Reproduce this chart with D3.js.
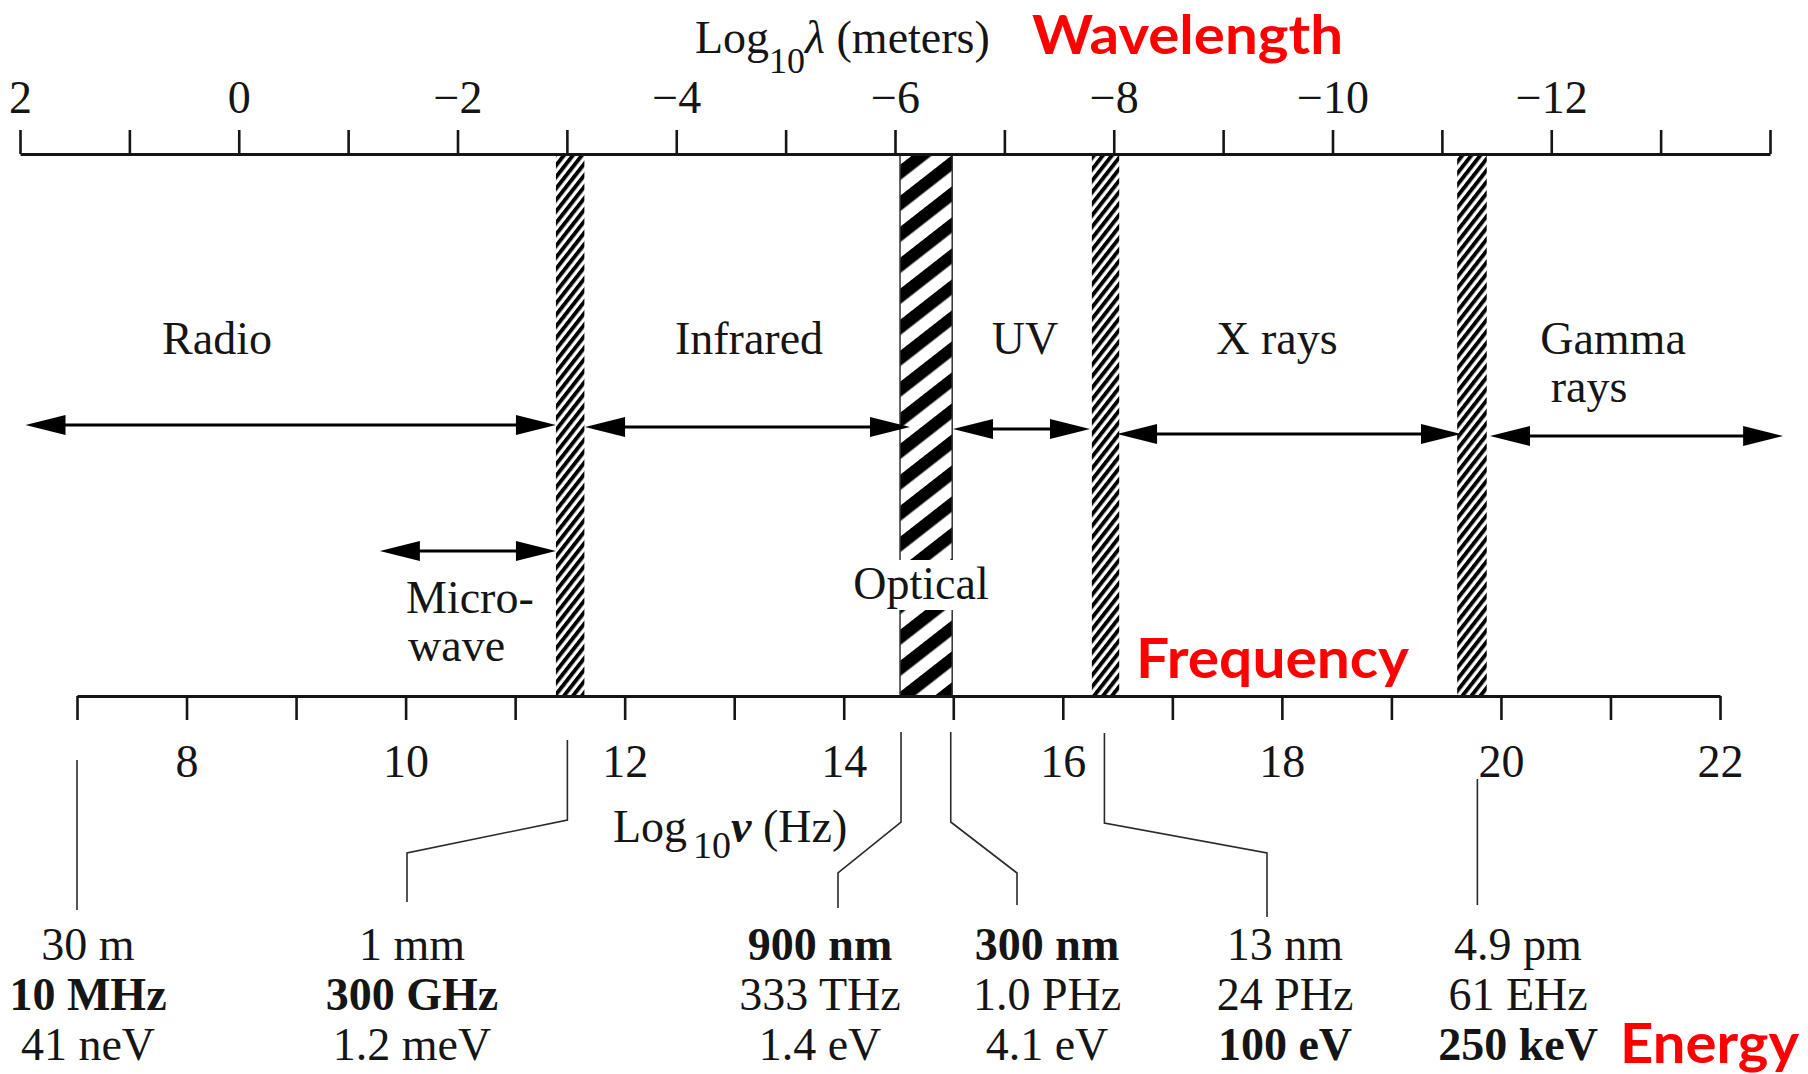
<!DOCTYPE html>
<html>
<head>
<meta charset="utf-8">
<script src="https://cdn.jsdelivr.net/npm/d3@7"></script>
<style>
  html, body { margin: 0; padding: 0; background: #fff; }
  svg { display: block; }
</style>
</head>
<body>
<svg id="chart" width="1808" height="1074"></svg>
<script>
// ---- Data -------------------------------------------------------------
// Upper axis: log10 of wavelength in metres
const wavelengthTicks = d3.range(2, -15, -1);
const wavelengthLabels = [2, 0, -2, -4, -6, -8, -10, -12];
// Lower axis: log10 of frequency in hertz
const frequencyTicks = d3.range(7, 23);
const frequencyLabels = [8, 10, 12, 14, 16, 18, 20, 22];

// Transition zones between spectral regions (log10 wavelength ranges)
const bandNames = ["microwave/infrared", "optical", "ultraviolet/x-ray", "x-ray/gamma"];
const bandFrom  = [-2.90, -6.046, -7.80, -11.14];
const bandTo    = [-3.16, -6.523, -8.05, -11.41];

// Spectral regions with their extent (log10 wavelength)
const regionNames = ["Radio", "Microwave", "Infrared", "UV", "X rays", "Gamma rays"];
const regionFrom  = [1.95, -1.29, -3.166, -6.53, -8.03, -11.44];
const regionTo    = [-2.90, -2.90, -6.137, -7.783, -11.175, -14.12];

// Reference points on the frequency axis and their equivalents
const markerLogNu      = [7, 11.477, 14.523, 14.977, 16.380, 19.785];
const markerWavelength = ["30 m", "1 mm", "900 nm", "300 nm", "13 nm", "4.9 pm"];
const markerFrequency  = ["10 MHz", "300 GHz", "333 THz", "1.0 PHz", "24 PHz", "61 EHz"];
const markerEnergy     = ["41 neV", "1.2 meV", "1.4 eV", "4.1 eV", "100 eV", "250 keV"];
const markerDefinedBy  = ["frequency", "frequency", "wavelength", "wavelength", "energy", "energy"];

// ---- Setup ------------------------------------------------------------
const svg = d3.select("#chart");
const SERIF = "'Liberation Serif', 'Times New Roman', serif";
const INK = "#151515";
const FS = 46;

const xTop = d3.scaleLinear().domain([2, -14]).range([20, 1770]);
const xBottom = d3.scaleLinear().domain([7, 22]).range([77, 1720]);

const topY = 154, bottomY = 696;
const fmt = n => (n < 0 ? "\u2212" + Math.abs(n) : String(n));

// ---- Hatch patterns ---------------------------------------------------
const defs = svg.append("defs");
function hatch(id, verticalPeriod, angle, ink) {
  const perp = verticalPeriod * Math.cos(angle * Math.PI / 180);
  const p = defs.append("pattern")
    .attr("id", id)
    .attr("patternUnits", "userSpaceOnUse")
    .attr("width", 20).attr("height", perp)
    .attr("patternTransform", `rotate(${-angle})`);
  p.append("rect").attr("width", 20).attr("height", perp).attr("fill", "#fff");
  p.append("rect").attr("width", 20).attr("height", perp * ink).attr("fill", "#000");
}
hatch("fine", 11.5, 52, 0.55);
hatch("coarse", 31, 38, 0.5);

// ---- Transition bands -------------------------------------------------
const bandG = svg.append("g");
bandNames.forEach((name, i) => {
  const x0 = xTop(bandFrom[i]), x1 = xTop(bandTo[i]);
  const optical = name === "optical";
  bandG.append("rect")
    .attr("x", x0).attr("y", topY)
    .attr("width", x1 - x0).attr("height", bottomY - topY)
    .attr("fill", optical ? "url(#coarse)" : "url(#fine)")
    .attr("stroke", optical ? "#333" : "none")
    .attr("stroke-width", optical ? 1.5 : 0);
  if (optical) {
    // clear space for the "Optical" label across the band
    bandG.append("rect")
      .attr("x", x0 - 2).attr("y", 560)
      .attr("width", x1 - x0 + 4).attr("height", 50)
      .attr("fill", "#fff");
  }
});

// ---- Axes -------------------------------------------------------------
const topAxis = d3.axisTop(xTop)
  .tickValues(wavelengthTicks)
  .tickSize(24).tickSizeOuter(0)
  .tickFormat(d => wavelengthLabels.includes(d) ? fmt(d) : "");
const gTop = svg.append("g").attr("transform", `translate(0,${topY})`).call(topAxis);

const bottomAxis = d3.axisBottom(xBottom)
  .tickValues(frequencyTicks)
  .tickSize(24).tickSizeOuter(0)
  .tickFormat(d => frequencyLabels.includes(d) ? fmt(d) : "");
const gBottom = svg.append("g").attr("transform", `translate(0,${bottomY})`).call(bottomAxis);

[gTop, gBottom].forEach(g => {
  g.select(".domain").attr("stroke", INK).attr("stroke-width", 3);
  g.selectAll(".tick line").attr("stroke", INK).attr("stroke-width", 2.6);
  g.selectAll(".tick text")
    .attr("font-family", SERIF).attr("font-size", FS)
    .attr("fill", INK).attr("dy", 0);
});
gTop.selectAll(".tick text").attr("y", -41);
gBottom.selectAll(".tick text").attr("y", 81);

// Axis titles
const tTop = svg.append("text")
  .attr("x", 695).attr("y", 53)
  .attr("font-family", SERIF).attr("font-size", FS).attr("fill", INK);
tTop.append("tspan").text("Log");
tTop.append("tspan").attr("font-size", 36).attr("dy", 20).text("10");
tTop.append("tspan").attr("dy", -20).attr("font-style", "italic").text("\u03BB");
tTop.append("tspan").text(" (meters)");

const tBot = svg.append("text")
  .attr("x", 613).attr("y", 842)
  .attr("font-family", SERIF).attr("font-size", FS).attr("fill", INK);
tBot.append("tspan").text("Log");
tBot.append("tspan").attr("font-size", 38).attr("dx", 6).attr("dy", 16).text("10");
tBot.append("tspan").attr("dy", -16).attr("font-style", "italic").attr("font-weight", "bold").text("\u03BD");
tBot.append("tspan").text(" (Hz)");

// ---- Region arrows ----------------------------------------------------
const arrowY = [425, 551, 427, 429, 434, 436];
const arrowG = svg.append("g").attr("fill", "#000").attr("stroke", "#000");
function doubleArrow(xa, xb, y) {
  const L = 40, H = 10;
  const x1 = Math.min(xa, xb), x2 = Math.max(xa, xb);
  arrowG.append("line")
    .attr("x1", x1 + L - 2).attr("x2", x2 - L + 2)
    .attr("y1", y).attr("y2", y)
    .attr("stroke-width", 3);
  arrowG.append("path")
    .attr("stroke", "none")
    .attr("d", `M${x1},${y} L${x1 + L},${y - H} L${x1 + L},${y + H} Z`);
  arrowG.append("path")
    .attr("stroke", "none")
    .attr("d", `M${x2},${y} L${x2 - L},${y - H} L${x2 - L},${y + H} Z`);
}
regionNames.forEach((name, i) => {
  doubleArrow(xTop(regionFrom[i]), xTop(regionTo[i]), arrowY[i]);
});

// ---- Region labels ----------------------------------------------------
const regionLabelLayout = [
  { lines: ["Radio"], x: 217, y: 354, anchor: "middle" },
  { lines: ["Micro-", "wave"], x: 406, y: 613, anchor: "start" },
  { lines: ["Infrared"], x: 749, y: 354, anchor: "middle" },
  { lines: ["UV"], x: 1025, y: 354, anchor: "middle" },
  { lines: ["X rays"], x: 1277, y: 354, anchor: "middle" },
  { lines: ["Gamma", "rays"], x: [1613, 1589], y: 354, anchor: "middle" },
];
regionLabelLayout.forEach(l => {
  l.lines.forEach((s, k) => {
    svg.append("text")
      .attr("x", Array.isArray(l.x) ? l.x[k] : l.x + (k ? 2 : 0))
      .attr("y", l.y + k * 48)
      .attr("text-anchor", l.anchor)
      .attr("font-family", SERIF).attr("font-size", FS).attr("fill", INK)
      .text(s);
  });
});
svg.append("text")
  .attr("x", 921).attr("y", 599)
  .attr("text-anchor", "middle")
  .attr("font-family", SERIF).attr("font-size", FS).attr("fill", INK)
  .text("Optical");

// ---- Reference callouts -----------------------------------------------
const calloutLayout = [
  { top: 760, bend: null, knee: null, legX: null, end: 910, textX: 88 },
  { top: 740, bend: 820, knee: 853, legX: 407, end: 902, textX: 412 },
  { top: 732, bend: 822, knee: 873, legX: 838, end: 908, textX: 820 },
  { top: 732, bend: 822, knee: 873, legX: 1017, end: 905, textX: 1047 },
  { top: 733, bend: 823, knee: 853, legX: 1267, end: 917, textX: 1285 },
  { top: 779, bend: null, knee: null, legX: null, end: 905, textX: 1518 },
];
const leaderG = svg.append("g").attr("fill", "none").attr("stroke", "#2a2a2a").attr("stroke-width", 1.6);
const rowY = [960, 1010, 1060];
markerLogNu.forEach((nu, i) => {
  const c = calloutLayout[i];
  const xa = xBottom(nu);
  const pts = c.bend == null
    ? [[xa, c.top], [xa, c.end]]
    : [[xa, c.top], [xa, c.bend], [c.legX, c.knee], [c.legX, c.end]];
  leaderG.append("path").attr("d", d3.line()(pts));

  const rows = [
    [markerWavelength[i], "wavelength"],
    [markerFrequency[i], "frequency"],
    [markerEnergy[i], "energy"],
  ];
  rows.forEach(([txt, kind], r) => {
    svg.append("text")
      .attr("x", c.textX).attr("y", rowY[r])
      .attr("text-anchor", "middle")
      .attr("font-family", SERIF).attr("font-size", FS).attr("fill", INK)
      .attr("font-weight", markerDefinedBy[i] === kind ? "bold" : "normal")
      .text(txt);
  });
});

// ---- Red annotations --------------------------------------------------
const notes = [
  { text: "Wavelength", x: 1032, y: 54, w: 311, size: 53 },
  { text: "Frequency", x: 1136, y: 678, w: 273, size: 56 },
  { text: "Energy", x: 1620, y: 1063, w: 179, size: 56 },
];
notes.forEach(n => {
  svg.append("text")
    .attr("x", n.x).attr("y", n.y)
    .attr("font-family", "Lato, 'Open Sans', sans-serif")
    .attr("font-weight", 700).attr("font-size", n.size)
    .attr("fill", "#ff0000")
    .attr("textLength", n.w).attr("lengthAdjust", "spacingAndGlyphs")
    .text(n.text);
});
</script>
</body>
</html>
